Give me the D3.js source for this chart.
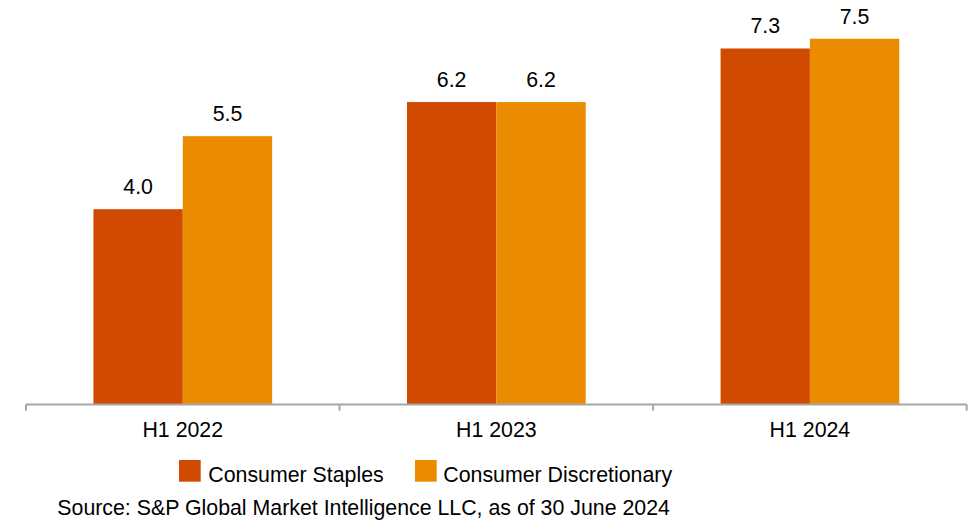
<!DOCTYPE html>
<html>
<head>
<meta charset="utf-8">
<script src="https://cdn.jsdelivr.net/npm/d3@7"></script>
<style>
  html, body { margin: 0; padding: 0; background: #fff; }
  svg { display: block; font-family: "Liberation Sans", Arial, sans-serif; }
</style>
</head>
<body>
<svg id="chart" width="979" height="520"></svg>
<script>
const categories = ["H1 2022", "H1 2023", "H1 2024"];
const seriesNames = ["Consumer Staples", "Consumer Discretionary"];
const staplesValues = [4.0, 6.2, 7.3];
const discretionaryValues = [5.5, 6.2, 7.5];
const valueLabels = [["4.0", "6.2", "7.3"], ["5.5", "6.2", "7.5"]];
const sourceText = "Source: S&P Global Market Intelligence LLC, as of 30 June 2024";
const colors = ["#D04A02", "#EB8C00"];

const svg = d3.select("#chart");
const fontSize = 21.33;

const x0 = d3.scaleBand().domain(categories).range([26, 966.7]).padding(0);
const groupW = 178.7;
const off = (x0.bandwidth() - groupW) / 2;
const x1 = d3.scaleBand().domain(seriesNames).range([off, off + groupW]).padding(0);
const y = d3.scaleLinear().domain([0, 8]).range([404, 14.4]);

const seriesData = [staplesValues, discretionaryValues];

const groups = svg.append("g").selectAll("g")
  .data(categories)
  .join("g")
  .attr("transform", d => `translate(${x0(d)},0)`);

groups.each(function(cat, ci) {
  const g = d3.select(this);
  seriesNames.forEach((s, si) => {
    const v = seriesData[si][ci];
    g.append("rect")
      .attr("x", x1(s))
      .attr("y", y(v))
      .attr("width", x1.bandwidth())
      .attr("height", y(0) - y(v))
      .attr("fill", colors[si]);
    g.append("text")
      .attr("x", x1(s) + x1.bandwidth() / 2)
      .attr("y", y(v) - 15)
      .attr("text-anchor", "middle")
      .attr("font-size", fontSize)
      .attr("fill", "#000")
      .text(valueLabels[si][ci]);
  });
});

// axis
const axisY = 404.5;
const axisColor = "#a6a6a6";
svg.append("line")
  .attr("x1", x0.range()[0]).attr("x2", x0.range()[1])
  .attr("y1", axisY).attr("y2", axisY)
  .attr("stroke", axisColor).attr("stroke-width", 2);
const edges = categories.map(c => x0(c)).concat([x0(categories[categories.length - 1]) + x0.bandwidth()]);
svg.append("g").selectAll("line")
  .data(edges)
  .join("line")
  .attr("x1", d => d).attr("x2", d => d)
  .attr("y1", axisY).attr("y2", 410.7)
  .attr("stroke", axisColor).attr("stroke-width", 2);

svg.append("g").selectAll("text")
  .data(categories)
  .join("text")
  .attr("x", d => x0(d) + x0.bandwidth() / 2)
  .attr("y", 436.7)
  .attr("text-anchor", "middle")
  .attr("font-size", fontSize)
  .attr("fill", "#000")
  .text(d => d);

// legend
const legendPos = [{sx: 179, tx: 208.3}, {sx: 415, tx: 443.3}];
seriesNames.forEach((s, i) => {
  svg.append("rect")
    .attr("x", legendPos[i].sx).attr("y", 460)
    .attr("width", 21.7).attr("height", 21.7)
    .attr("fill", colors[i]);
  svg.append("text")
    .attr("x", legendPos[i].tx).attr("y", 481.7)
    .attr("font-size", fontSize)
    .attr("fill", "#000")
    .text(s);
});

svg.append("text")
  .attr("x", 57.3).attr("y", 515)
  .attr("font-size", fontSize)
  .attr("fill", "#000")
  .text(sourceText);
</script>
</body>
</html>
